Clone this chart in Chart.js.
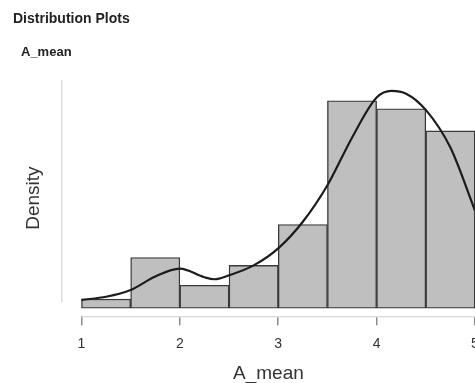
<!DOCTYPE html>
<html>
<head>
<meta charset="utf-8">
<script src="https://cdn.jsdelivr.net/npm/chart.js@4.4.1/dist/chart.umd.min.js"></script>
<style>
    html, body { margin: 0; padding: 0; background: #fff; overflow: hidden; }
    .page { position: relative; width: 475px; height: 383px; overflow: hidden; }
    .chart-box { position: absolute; left: 0; top: 0; width: 500px; height: 383px; }
    .head { position: absolute; font-family: "Liberation Sans", Arial, sans-serif; font-weight: bold; color: #222; white-space: nowrap; }
    .head.main { left: 13px; top: 10px; font-size: 14px; }
    .head.sub { left: 21px; top: 44px; font-size: 13px; }
</style>
</head>
<body>
<div class="page">
    <div class="chart-box"><canvas id="chart"></canvas></div>
    <div class="head main">Distribution Plots</div>
    <div class="head sub">A_mean</div>
</div>
<script>
// histogram bins (centres, width 0.5) and their density
const binCenters = [1.25, 1.75, 2.25, 2.75, 3.25, 3.75, 4.25, 4.75]
const binDensity = [0.023, 0.128, 0.058, 0.108, 0.211, 0.523, 0.503, 0.447]

// kernel density curve
const kdeX = [1.0, 1.25, 1.5, 1.75, 2.0, 2.25, 2.35, 2.5, 2.75, 3.0, 3.25, 3.5, 3.75, 4.0, 4.15, 4.3, 4.5, 4.75, 5.0]
const kdeY = [0.021, 0.029, 0.046, 0.080, 0.100, 0.078, 0.073, 0.083, 0.108, 0.151, 0.218, 0.310, 0.430, 0.531, 0.548, 0.541, 0.500, 0.405, 0.246]

const xTicks = [1, 2, 3, 4, 5]

const font = '"Liberation Sans", Arial, sans-serif'

// R style axis lines: only between the first and last tick
const axisLines = {
    id: 'axisLines',
    afterDraw(chart) {
        const { ctx, chartArea, scales } = chart
        const x = scales.x, y = scales.y
        ctx.save()
        ctx.strokeStyle = '#dedede'
        ctx.lineWidth = 1.5
        ctx.beginPath()
        ctx.moveTo(x.getPixelForValue(xTicks[0]), chartArea.bottom + 0.5)
        ctx.lineTo(x.getPixelForValue(xTicks[xTicks.length - 1]), chartArea.bottom + 0.5)
        ctx.moveTo(chartArea.left, chartArea.top)
        ctx.lineTo(chartArea.left, y.getPixelForValue(0.016))
        ctx.stroke()
        ctx.restore()
    }
}

new Chart(document.getElementById('chart'), {
    type: 'bar',
    data: {
        datasets: [{
            type: 'line',
            order: 0,
            data: kdeX.map((v, i) => ({ x: v, y: kdeY[i] })),
            borderColor: '#1c1c1c',
            borderWidth: 2.2,
            pointRadius: 0,
            cubicInterpolationMode: 'monotone',
            fill: false
        }, {
            type: 'bar',
            order: 1,
            data: binCenters.map((v, i) => ({ x: v, y: binDensity[i] })),
            backgroundColor: '#bfbfbf',
            borderColor: '#3a3a3a',
            borderWidth: 1.4,
            borderSkipped: false,
            barPercentage: 1,
            categoryPercentage: 1
        }]
    },
    options: {
        animation: false,
        responsive: true,
        maintainAspectRatio: false,
        layout: {
            padding: { left: 13, top: 80, right: 25, bottom: 0 }
        },
        plugins: {
            legend: { display: false },
            tooltip: { enabled: false }
        },
        scales: {
            x: {
                type: 'linear',
                min: 0.8,
                max: 5,
                offset: false,
                afterBuildTicks: axis => { axis.ticks = xTicks.map(v => ({ value: v })) },
                border: { display: false },
                grid: {
                    offset: false,
                    drawOnChartArea: false,
                    drawTicks: true,
                    tickLength: 9,
                    color: '#8a8a8a',
                    lineWidth: 1.5
                },
                ticks: {
                    color: '#333',
                    padding: 11,
                    maxRotation: 0,
                    font: { family: font, size: 14 }
                },
                title: {
                    display: true,
                    text: 'A_mean',
                    color: '#333',
                    padding: { top: 0, bottom: 0 },
                    font: { family: font, size: 19, lineHeight: 1 }
                }
            },
            y: {
                min: -0.0201,
                max: 0.5754,
                border: { display: false },
                grid: { display: false },
                ticks: { display: false },
                title: {
                    display: true,
                    text: 'Density',
                    color: '#333',
                    padding: { top: 9, bottom: 9 },
                    font: { family: font, size: 19, lineHeight: 1.2 }
                }
            }
        }
    },
    plugins: [axisLines]
})
</script>
</body>
</html>
